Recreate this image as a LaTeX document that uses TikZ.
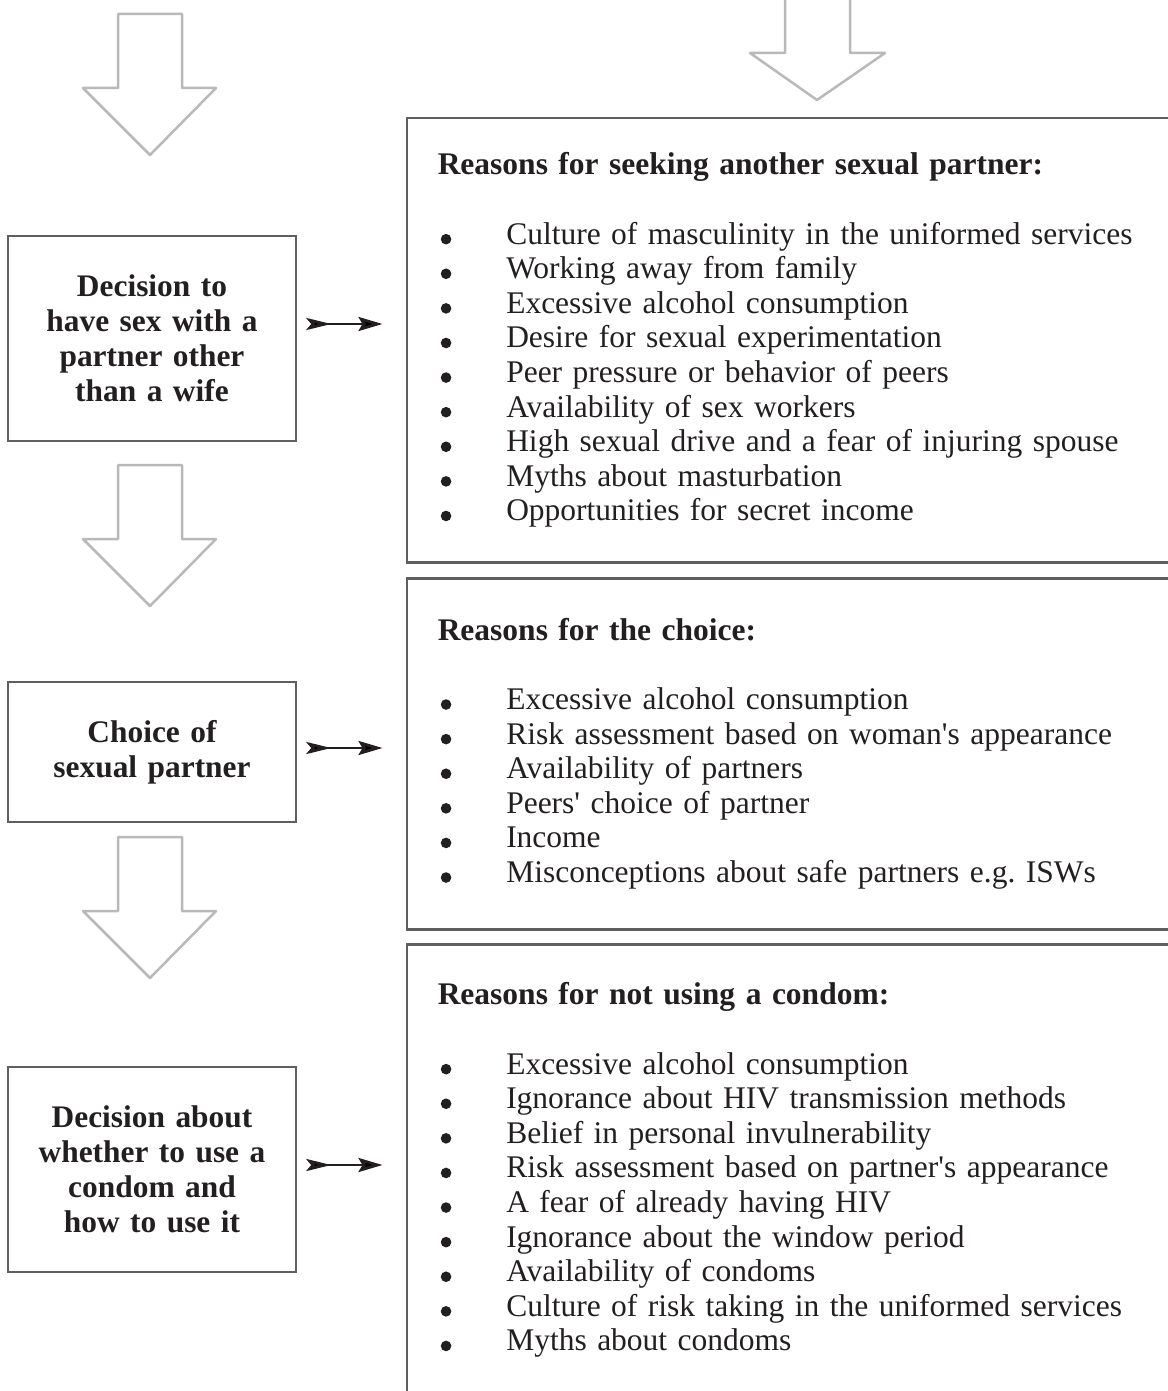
\documentclass[tikz,border=0pt]{standalone}
\usepackage{fontspec}
\setmainfont{Liberation Serif}
\usepackage{tikz}
\usetikzlibrary{arrows.meta, positioning}
\definecolor{inkgray}{RGB}{35,31,32}
\definecolor{framegray}{RGB}{95,95,95}
\definecolor{hollowgray}{RGB}{185,185,185}
\tikzstyle{decision} = [rectangle, draw=framegray, line width=2.5pt, minimum width=288pt, text width=262pt, align=center, text=inkgray, font=\bfseries\fontsize{31.4}{35}\selectfont]
\tikzstyle{reasons} = [rectangle, draw=framegray, line width=2.5pt, anchor=north west, minimum width=780pt, inner xsep=31pt, text width=718pt, align=left, text=inkgray, font=\frenchspacing\fontsize{31.5}{34.6}\selectfont]
\tikzstyle{arrow} = [line width=2.8pt, draw=inkgray, {Stealth[reversed,length=25pt,width=12pt,inset=5pt]}-{Stealth[length=24pt,width=14pt,inset=4pt]}, shorten <=9pt, shorten >=23pt]
\tikzstyle{hollow} = [draw=hollowgray, line width=2.5pt, line join=round]
\newcommand{\itm}[1]{\makebox[68.5pt][l]{\hspace*{3pt}\tikz[baseline=-5pt]\fill[inkgray] (0,0) circle (5.3pt);}#1}
\newcommand{\apos}{\textquotesingle}

\begin{document}
\begin{tikzpicture}[x=1pt, y=-1pt]
\useasboundingbox (0,0) rectangle (1167,1391);

% hollow arrows down the left column
\foreach \ytop/\ybase/\ytip in {14/88/155, 465/539/606, 837/911/978}
  \draw[hollow] (118,\ytop) -- (182,\ytop) -- (182,\ybase) -- (216,\ybase) -- (150,\ytip) -- (83,\ybase) -- (118,\ybase) -- cycle;
\draw[hollow] (785,-5) -- (785,53) -- (750,53) -- (817,100) -- (885,53) -- (850,53) -- (850,-5);

% decisions
\node (sexdec) [decision, minimum height=205pt] at (152,338.5) {Decision to\\ have sex with a\\ partner other\\ than a wife};
\node (choice) [decision, minimum height=140pt] at (152,752) {Choice of\\ sexual partner};
\node (condom) [decision, minimum height=205pt] at (152,1169.5) {Decision about\\ whether to use a\\ condom and\\ how to use it};

% reasons
\node (seek) [reasons, minimum height=444pt] at (405.5,117) {{\bfseries Reasons for seeking another sexual partner:}\\[34.6pt]
\itm{Culture of masculinity in the uniformed services}\\
\itm{Working away from family}\\
\itm{Excessive alcohol consumption}\\
\itm{Desire for sexual experimentation}\\
\itm{Peer pressure or behavior of peers}\\
\itm{Availability of sex workers}\\
\itm{High sexual drive and a fear of injuring spouse}\\
\itm{Myths about masturbation}\\
\itm{Opportunities for secret income}};

\node (pick) [reasons, minimum height=351pt] at (405.5,577) {{\bfseries Reasons for the choice:}\\[34.6pt]
\itm{Excessive alcohol consumption}\\
\itm{Risk assessment based on woman\apos s appearance}\\
\itm{Availability of partners}\\
\itm{Peers\apos{} choice of partner}\\
\itm{Income}\\
\itm{Misconceptions about safe partners e.g. ISWs}};

\node (nouse) [reasons, minimum height=452pt] at (405.5,943) {{\bfseries Reasons for not using a condom:}\\[34.6pt]
\itm{Excessive alcohol consumption}\\
\itm{Ignorance about HIV transmission methods}\\
\itm{Belief in personal invulnerability}\\
\itm{Risk assessment based on partner\apos s appearance}\\
\itm{A fear of already having HIV}\\
\itm{Ignorance about the window period}\\
\itm{Availability of condoms}\\
\itm{Culture of risk taking in the uniformed services}\\
\itm{Myths about condoms}};

\draw [arrow] ([yshift=14.5pt]sexdec.east) -- ([yshift=14.5pt]sexdec.east -| seek.west);
\draw [arrow] ([yshift=4pt]choice.east) -- ([yshift=4pt]choice.east -| pick.west);
\draw [arrow] ([yshift=4.5pt]condom.east) -- ([yshift=4.5pt]condom.east -| nouse.west);

\end{tikzpicture}
\end{document}
